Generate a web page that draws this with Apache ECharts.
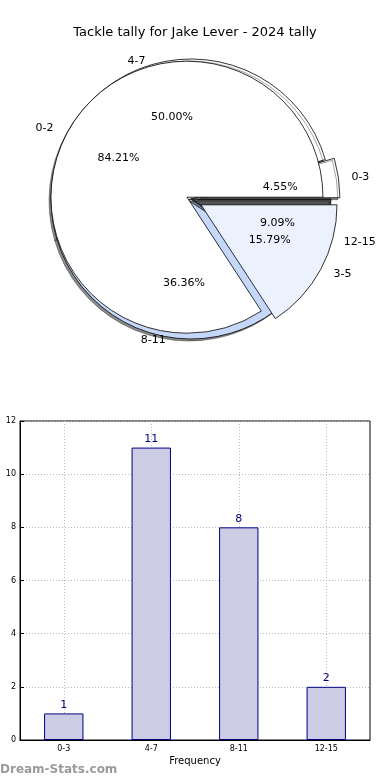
<!DOCTYPE html>
<html><head><meta charset="utf-8">
<script src="https://cdn.jsdelivr.net/npm/echarts@6/dist/echarts.min.js"></script>
<style>html,body{margin:0;padding:0;background:#fff}#c{width:390px;height:780px}</style>
</head><body><div id="c"></div>
<script>
var titleText = 'Tackle tally for Jake Lever - 2024 tally';
var pieCats1 = ['0-3', '4-7', '8-11', '12-15'];
var pieVals1 = [1, 11, 8, 2];
var pieCats2 = ['0-2', '3-5'];
var pieVals2 = [16, 3];
var barCats = ['0-3', '4-7', '8-11', '12-15'];
var barVals = [1, 11, 8, 2];
var yTicks = [0, 2, 4, 6, 8, 10, 12];
var xName = 'Frequency';
var yName = 'Stat Interval';
var watermark = 'Dream-Stats.com';

// styling (kept apart from the data)
var pieCols1 = ['#ffffff', '#ffffff', '#c6d8f9', '#555555'];
var pieCols2 = ['#ffffff', '#ebf1fd'];
var labelLen1 = [8, 4, 3, 14];
var labelLen2 = [10, 9];

var FONT = 'DejaVu Sans';
var chart = echarts.init(document.getElementById('c'), null, {renderer: 'canvas'});

function pieData(cats, vals, cols, selIdx, lens) {
  return cats.map(function (c, i) {
    return {name: c, value: vals[i], selected: selIdx.indexOf(i) >= 0,
      itemStyle: {color: cols[i]}, labelLine: {show: false, length: lens[i], length2: 0}};
  });
}
function pctData(cats, vals) {
  return cats.map(function (c, i) { return {name: c, value: vals[i]}; });
}
var nameLabel = {show: true, position: 'outside', color: '#000', fontSize: 11, fontFamily: FONT,
  formatter: '{b}'};
var pctLabel = {show: true, position: 'inside', color: '#000', fontSize: 11, fontFamily: FONT,
  formatter: function (p) { return p.percent.toFixed(2) + '%'; }};
var gridLineStyle = {color: '#bbb', type: [1, 2], width: 1};

var option = {
  animation: false,
  backgroundColor: '#fff',
  title: {text: titleText, left: 'center', top: 21,
    textStyle: {fontSize: 13, fontWeight: 'normal', color: '#000', fontFamily: FONT}},
  graphic: [{type: 'text', left: 0, top: 764, z: 10,
    style: {text: watermark, fill: '#9a9a9a', font: 'bold 12px "DejaVu Sans"'}}],
  grid: {left: 20, right: 20, top: 421, bottom: 40, containLabel: false, outerBoundsMode: 'none',
    show: true, borderColor: '#000', borderWidth: 1, backgroundColor: '#fff'},
  xAxis: {type: 'category', data: barCats, name: xName, nameLocation: 'middle', nameGap: 16,
    nameTextStyle: {fontSize: 10, color: '#000', fontFamily: FONT},
    axisLine: {lineStyle: {color: '#000'}},
    axisTick: {show: true, alignWithLabel: true, inside: true, length: 4, lineStyle: {color: '#000'}},
    axisLabel: {fontSize: 8, color: '#000', fontFamily: FONT, margin: 5},
    splitLine: {show: false}},
  yAxis: {type: 'value', min: yTicks[0], max: yTicks[yTicks.length - 1], interval: 2,
    name: yName, nameLocation: 'middle', nameGap: 17,
    nameTextStyle: {fontSize: 10, color: '#000', fontFamily: FONT},
    axisLine: {show: true, lineStyle: {color: '#000'}},
    axisTick: {show: true, inside: true, length: 4, lineStyle: {color: '#000'}},
    axisLabel: {fontSize: 8, color: '#000', fontFamily: FONT, margin: 4},
    splitLine: {show: true, lineStyle: gridLineStyle}},
  series: [
    {type: 'pie', z: 1, center: [191, 199], radius: 140, startAngle: 0, clockwise: false,
      selectedMode: 'multiple', selectedOffset: 9, avoidLabelOverlap: false, silent: true,
      itemStyle: {borderColor: '#000', borderWidth: 0.8, shadowColor: 'rgba(0,0,0,0.45)',
        shadowOffsetX: -2, shadowOffsetY: 2, shadowBlur: 0},
      label: nameLabel,
      data: pieData(pieCats1, pieVals1, pieCols1, [0], labelLen1)},
    {type: 'pie', z: 2, center: [194, 201], radius: 136, startAngle: 0, clockwise: false,
      selectedMode: 'multiple', selectedOffset: 8, avoidLabelOverlap: false, silent: true,
      itemStyle: {borderColor: '#000', borderWidth: 0.8},
      label: nameLabel,
      data: pieData(pieCats2, pieVals2, pieCols2, [0, 1], labelLen2)},
    {type: 'pie', z: 3, center: [196, 199], radius: [58, 106], startAngle: 0, clockwise: false,
      avoidLabelOverlap: false, silent: true,
      itemStyle: {color: 'rgba(0,0,0,0)', borderWidth: 0},
      label: pctLabel, labelLine: {show: false}, data: pctData(pieCats1, pieVals1)},
    {type: 'pie', z: 3, center: [194, 199], radius: [60, 106], startAngle: 0, clockwise: false,
      avoidLabelOverlap: false, silent: true,
      itemStyle: {color: 'rgba(0,0,0,0)', borderWidth: 0},
      label: pctLabel, labelLine: {show: false}, data: pctData(pieCats2, pieVals2)},
    {type: 'bar', data: barVals, barWidth: '45%',
      itemStyle: {color: '#ccccE4', borderColor: '#000080', borderWidth: 1},
      label: {show: true, position: 'top', distance: 3, color: '#000080', fontSize: 11, fontFamily: FONT},
      markLine: {silent: true, symbol: 'none', label: {show: false}, lineStyle: gridLineStyle, z: 1,
        data: barCats.map(function (c) { return {xAxis: c}; })}}
  ]
};
chart.setOption(option);
</script></body></html>
